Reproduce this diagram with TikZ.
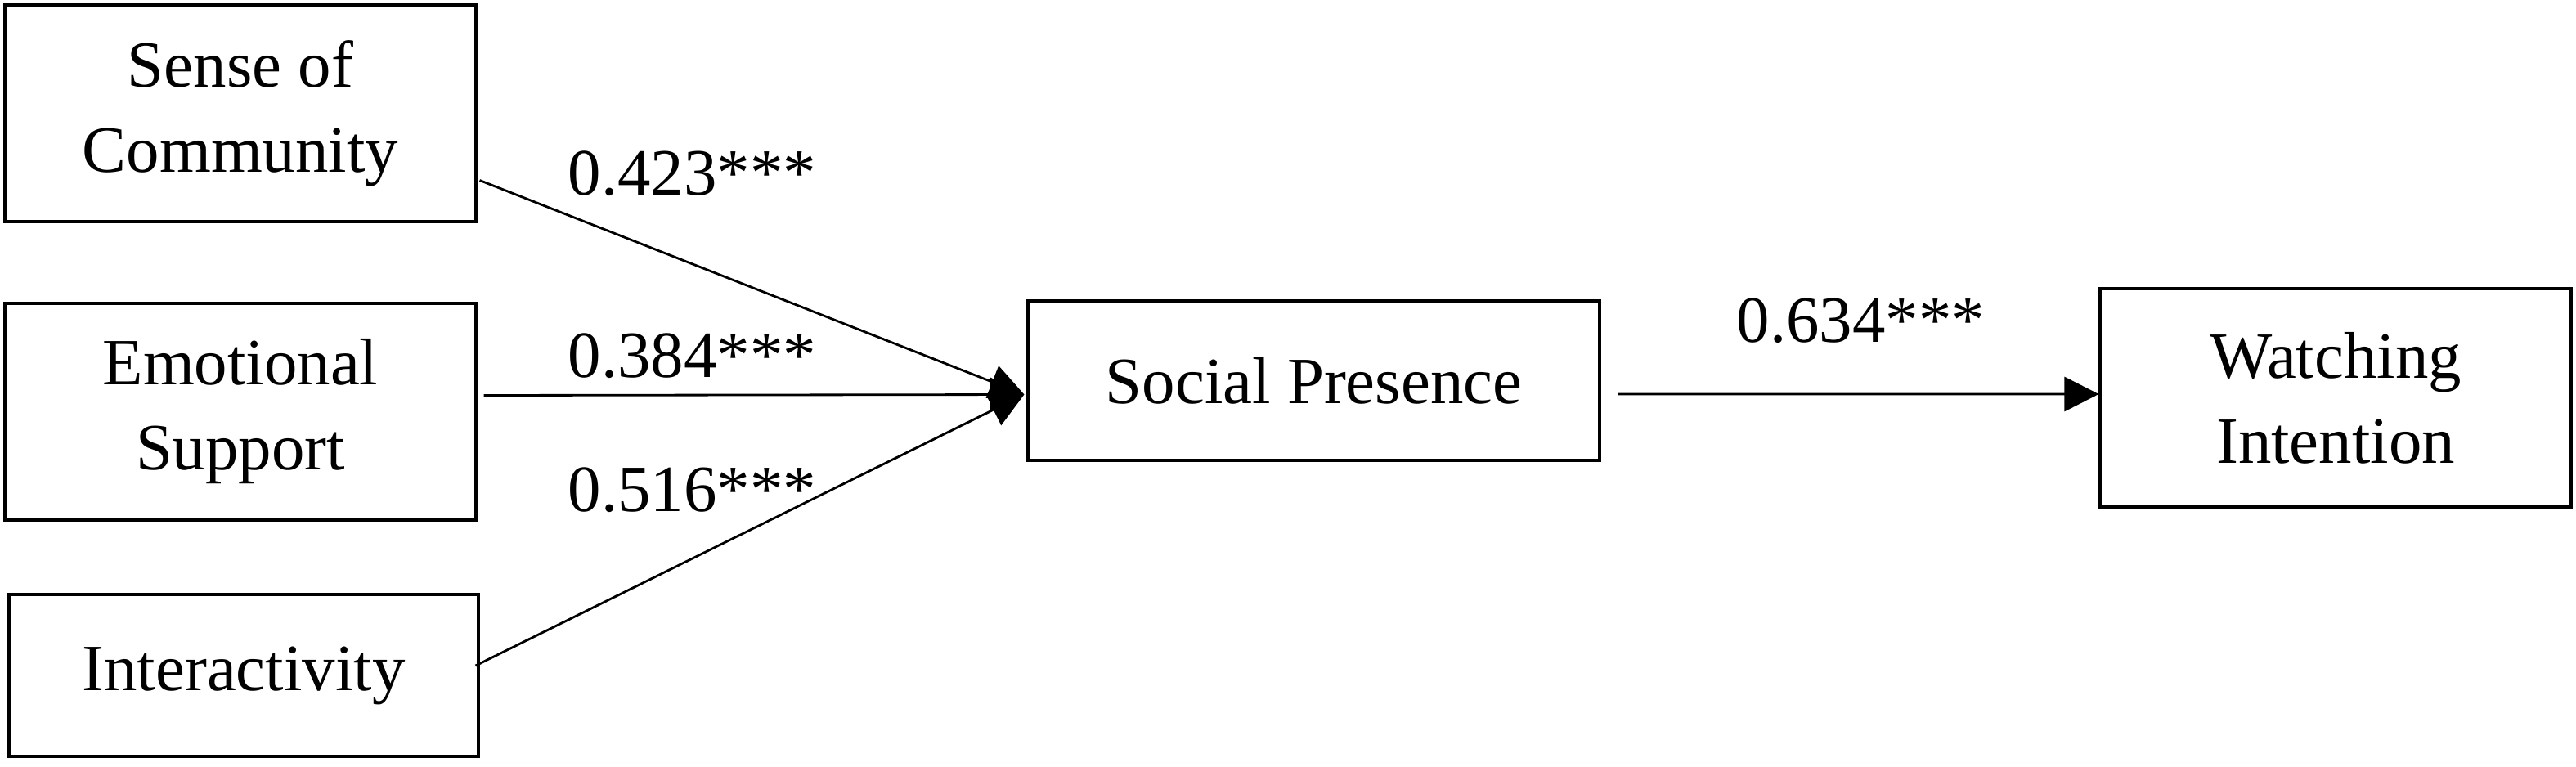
\documentclass[tikz,border=0pt]{standalone}
\usepackage{fontspec}
\setmainfont{Liberation Serif}
\usetikzlibrary{arrows.meta}

\begin{document}
\begin{tikzpicture}[
        box/.style={draw, line width=0.9pt, inner sep=0pt, align=center, font=\fontsize{23}{29.6}\selectfont},
        coef/.style={anchor=base west, inner sep=0pt, font=\fontsize{23}{29.6}\selectfont},
        effect/.style={line width=0.8pt, -{Triangle[length=0.42cm, width=0.42cm]}}
    ]
        \useasboundingbox (0, 0) rectangle (31.5, 9.37);

        \node[box, minimum width=5.76cm, minimum height=2.65cm] (soc) at(2.94, 7.985){Sense of\\Community};
        \node[box, minimum width=5.76cm, minimum height=2.65cm] (es) at(2.94, 4.335){Emotional\\Support};
        \node[box, minimum width=5.74cm, minimum height=1.98cm] (inter) at(2.98, 1.11){Interactivity};
        \node[box, minimum width=6.99cm, minimum height=1.95cm] (sp) at(16.065, 4.715){Social Presence};
        \node[box, minimum width=5.76cm, minimum height=2.67cm] (wi) at(28.56, 4.505){Watching\\Intention};

        \draw[effect] ([xshift=.03cm, yshift=-.82cm]soc.east) -- ([xshift=-.03cm, yshift=-.17cm]sp.west);
        \draw[effect] ([xshift=.08cm, yshift=.2cm]es.east) -- ([xshift=-.03cm, yshift=-.17cm]sp.west);
        \draw[effect] ([xshift=-.05cm, yshift=.12cm]inter.east) -- ([xshift=-.03cm, yshift=-.17cm]sp.west);
        \draw[effect] ([xshift=.21cm, yshift=-.165cm]sp.east) -- ([yshift=.045cm]wi.west);

        \node[coef] (c1) at(6.94, 6.99){0.423***};
        \node[coef] (c2) at(6.94, 4.76){0.384***};
        \node[coef] (c3) at(6.94, 3.12){0.516***};
        \node[coef] (c4) at(21.23, 5.19){0.634***};
    \end{tikzpicture}
\end{document}
